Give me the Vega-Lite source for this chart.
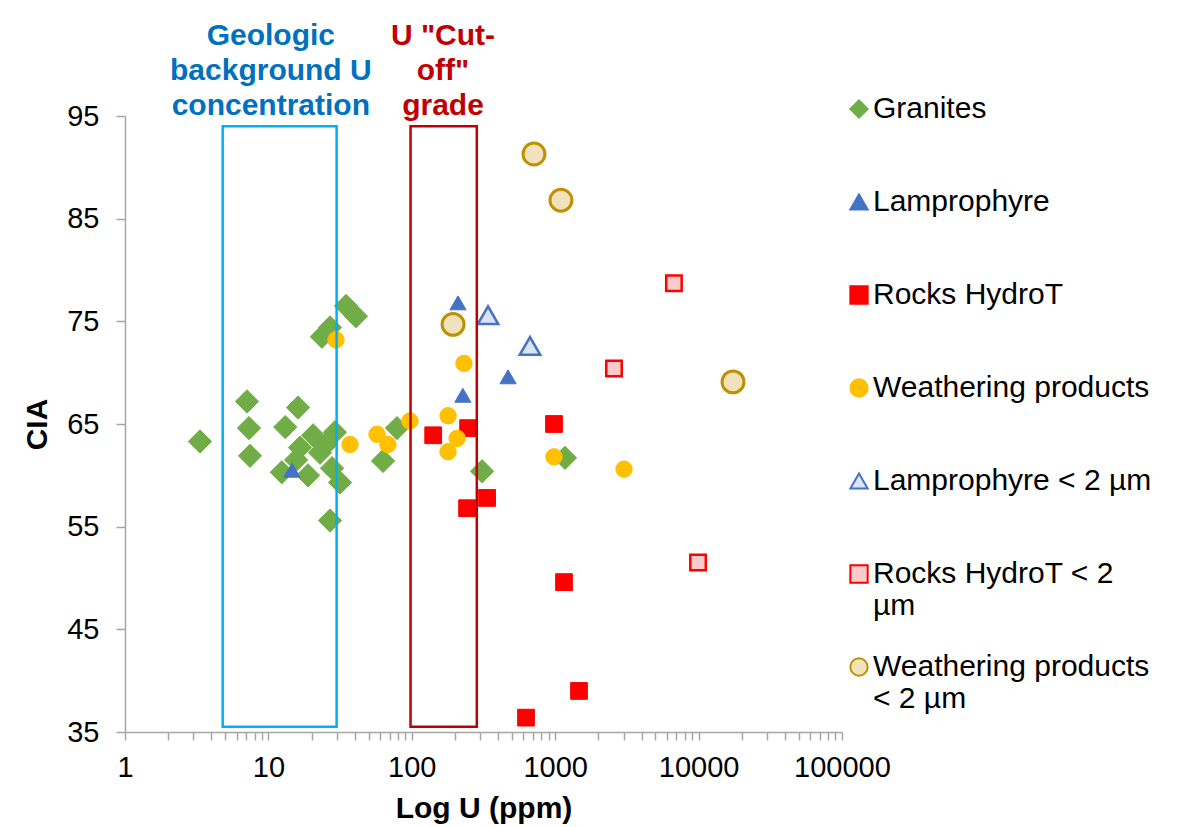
{
  "$schema": "https://vega.github.io/schema/vega-lite/v6.json",
  "width": 717,
  "height": 616,
  "autosize": {"type": "none"},
  "padding": {"left": 125, "top": 116, "right": 353, "bottom": 95},
  "background": "white",
  "config": {
    "view": {"stroke": null},
    "font": "Liberation Sans",
    "legend": {
      "labelFont": "Liberation Sans",
      "labelFontSize": 30,
      "labelColor": "#000000",
      "labelLimit": 420,
      "labelOffset": -1,
      "symbolSize": 300,
      "symbolStrokeWidth": 2,
      "rowPadding": 31,
      "gridAlign": "all",
      "padding": 0
    }
  },
  "datasets": {
    "points": [
      {"series": "Granites", "u": 3.33, "cia": 63.3},
      {"series": "Granites", "u": 7.09, "cia": 67.2},
      {"series": "Granites", "u": 7.32, "cia": 64.6},
      {"series": "Granites", "u": 7.44, "cia": 61.9},
      {"series": "Granites", "u": 16.1, "cia": 66.6},
      {"series": "Granites", "u": 13.1, "cia": 64.7},
      {"series": "Granites", "u": 20.5, "cia": 63.9},
      {"series": "Granites", "u": 29.1, "cia": 64.2},
      {"series": "Granites", "u": 16.6, "cia": 62.7},
      {"series": "Granites", "u": 22.9, "cia": 62.2},
      {"series": "Granites", "u": 12.4, "cia": 60.3},
      {"series": "Granites", "u": 18.9, "cia": 60.0},
      {"series": "Granites", "u": 27.8, "cia": 60.7},
      {"series": "Granites", "u": 31.6, "cia": 59.3},
      {"series": "Granites", "u": 26.9, "cia": 55.6},
      {"series": "Granites", "u": 23.6, "cia": 73.5},
      {"series": "Granites", "u": 26.9, "cia": 74.4},
      {"series": "Granites", "u": 34.8, "cia": 76.5},
      {"series": "Granites", "u": 40.8, "cia": 75.5},
      {"series": "Granites", "u": 63.0, "cia": 61.4},
      {"series": "Granites", "u": 78.8, "cia": 64.6},
      {"series": "Granites", "u": 309, "cia": 60.4},
      {"series": "Granites", "u": 1170, "cia": 61.7},
      {"series": "Granites", "u": 15.6, "cia": 61.5},
      {"series": "Granites", "u": 24.8, "cia": 62.9},
      {"series": "Lamprophyre", "u": 14.6, "cia": 60.5},
      {"series": "Lamprophyre", "u": 210, "cia": 76.8},
      {"series": "Lamprophyre", "u": 227, "cia": 67.8},
      {"series": "Lamprophyre", "u": 469, "cia": 69.6},
      {"series": "Rocks HydroT", "u": 141, "cia": 63.9},
      {"series": "Rocks HydroT", "u": 247, "cia": 64.6},
      {"series": "Rocks HydroT", "u": 981, "cia": 65.0},
      {"series": "Rocks HydroT", "u": 335, "cia": 57.8},
      {"series": "Rocks HydroT", "u": 243, "cia": 56.8},
      {"series": "Rocks HydroT", "u": 1152, "cia": 49.6},
      {"series": "Rocks HydroT", "u": 1466, "cia": 39.0},
      {"series": "Rocks HydroT", "u": 626, "cia": 36.4},
      {"series": "Weathering products", "u": 29.6, "cia": 73.2},
      {"series": "Weathering products", "u": 37.1, "cia": 63.0},
      {"series": "Weathering products", "u": 57.2, "cia": 64.0},
      {"series": "Weathering products", "u": 68.2, "cia": 63.0},
      {"series": "Weathering products", "u": 97, "cia": 65.3},
      {"series": "Weathering products", "u": 179, "cia": 65.8},
      {"series": "Weathering products", "u": 207, "cia": 63.6},
      {"series": "Weathering products", "u": 179, "cia": 62.3},
      {"series": "Weathering products", "u": 231, "cia": 70.9},
      {"series": "Weathering products", "u": 981, "cia": 61.8},
      {"series": "Weathering products", "u": 3020, "cia": 60.6},
      {"series": "Lamprophyre < 2 µm", "u": 340, "cia": 75.6},
      {"series": "Lamprophyre < 2 µm", "u": 667, "cia": 72.6},
      {"series": "Rocks HydroT < 2 µm", "u": 6730, "cia": 78.7},
      {"series": "Rocks HydroT < 2 µm", "u": 2570, "cia": 70.4},
      {"series": "Rocks HydroT < 2 µm", "u": 9910, "cia": 51.5},
      {"series": "Weathering products < 2 µm", "u": 711, "cia": 91.3},
      {"series": "Weathering products < 2 µm", "u": 1097, "cia": 86.8},
      {"series": "Weathering products < 2 µm", "u": 194, "cia": 74.7},
      {"series": "Weathering products < 2 µm", "u": 17380, "cia": 69.1}
    ],
    "boxes": [
      {"box": "background", "u": 4.8, "u_hi": 29.9, "cia": 35.5, "cia_hi": 94},
      {"box": "cutoff", "u": 98, "u_hi": 284, "cia": 35.5, "cia_hi": 94}
    ],
    "notes": [
      {"box": "background", "note": "Geologic\nbackground U\nconcentration", "u": 10.4, "cia": 102.8},
      {"box": "cutoff", "note": "U \"Cut-\noff\"\ngrade", "u": 165, "cia": 102.8}
    ]
  },
  "encoding": {
    "x": {
      "field": "u", "type": "quantitative",
      "scale": {"type": "log", "domain": [1, 100000], "nice": false},
      "axis": {
        "title": "Log U (ppm)",
        "titleFontSize": 30, "titleFontWeight": "bold", "titleColor": "#000000", "titlePadding": 11,
        "labelFontSize": 29, "labelColor": "#000000", "labelPadding": 13,
        "labelFlush": false, "labelOverlap": false, "labelBound": false,
        "values": [1,2,3,4,5,6,7,8,9,10,20,30,40,50,60,70,80,90,100,200,300,400,500,600,700,800,900,1000,2000,3000,4000,5000,6000,7000,8000,9000,10000,20000,30000,40000,50000,60000,70000,80000,90000,100000],
        "labelExpr": "indexof([1,10,100,1000,10000,100000], datum.value) >= 0 ? format(datum.value, 'd') : ''",
        "grid": false, "tickSize": 8, "tickColor": "#A6A6A6", "domainColor": "#A6A6A6", "tickWidth": 1.5, "domainWidth": 1.5
      }
    },
    "y": {
      "field": "cia", "type": "quantitative",
      "scale": {"domain": [35, 95], "nice": false, "zero": false},
      "axis": {
        "title": "CIA",
        "titleFontSize": 30, "titleFontWeight": "bold", "titleColor": "#000000", "titlePadding": 14,
        "labelFontSize": 29, "labelColor": "#000000", "labelPadding": 17,
        "values": [35, 45, 55, 65, 75, 85, 95],
        "grid": false, "tickSize": 9, "tickColor": "#A6A6A6", "domainColor": "#A6A6A6", "tickWidth": 1.5, "domainWidth": 1.5
      }
    }
  },
  "layer": [
    {
      "data": {"name": "points"},
      "encoding": {
        "fill": {
          "field": "series", "type": "nominal",
          "scale": {
            "domain": ["Granites", "Lamprophyre", "Rocks HydroT", "Weathering products", "Lamprophyre < 2 µm", "Rocks HydroT < 2 µm", "Weathering products < 2 µm"],
            "range": ["#70AD47", "#4472C4", "#FF0000", "#FFC000", "#dbe3f4", "#fbcaca", "#efe2bd"]
          },
          "legend": {
            "title": null,
            "orient": "none",
            "legendX": 719,
            "legendY": -22,
            "labelExpr": "datum.label == 'Rocks HydroT < 2 µm' ? ['Rocks HydroT < 2', 'µm'] : datum.label == 'Weathering products < 2 µm' ? ['Weathering products', '< 2 µm'] : datum.label"
          }
        },
        "stroke": {
          "field": "series", "type": "nominal",
          "scale": {
            "domain": ["Granites", "Lamprophyre", "Rocks HydroT", "Weathering products", "Lamprophyre < 2 µm", "Rocks HydroT < 2 µm", "Weathering products < 2 µm"],
            "range": ["#70AD47", "#4472C4", "#FF0000", "#FFC000", "#4472C4", "#FF0000", "#BF9000"]
          }
        },
        "shape": {
          "field": "series", "type": "nominal",
          "scale": {
            "domain": ["Granites", "Lamprophyre", "Rocks HydroT", "Weathering products", "Lamprophyre < 2 µm", "Rocks HydroT < 2 µm", "Weathering products < 2 µm"],
            "range": ["diamond", "triangle-up", "square", "circle", "triangle-up", "square", "circle"]
          }
        }
      },
      "layer": [
        {"transform": [{"filter": "datum.series == 'Granites'"}], "mark": {"type": "point", "filled": true, "opacity": 1, "strokeWidth": 1, "size": 540}},
        {"transform": [{"filter": "datum.series == 'Lamprophyre'"}], "mark": {"type": "point", "filled": true, "opacity": 1, "strokeWidth": 1, "size": 260}},
        {"transform": [{"filter": "datum.series == 'Rocks HydroT'"}], "mark": {"type": "point", "filled": true, "opacity": 1, "strokeWidth": 1, "size": 280}},
        {"transform": [{"filter": "datum.series == 'Weathering products'"}], "mark": {"type": "point", "filled": true, "opacity": 1, "strokeWidth": 1, "size": 270}},
        {"transform": [{"filter": "datum.series == 'Lamprophyre < 2 µm'"}], "mark": {"type": "point", "filled": true, "opacity": 1, "strokeWidth": 2.5, "size": 420}},
        {"transform": [{"filter": "datum.series == 'Rocks HydroT < 2 µm'"}], "mark": {"type": "point", "filled": true, "opacity": 1, "strokeWidth": 2.5, "size": 240}},
        {"transform": [{"filter": "datum.series == 'Weathering products < 2 µm'"}], "mark": {"type": "point", "filled": true, "opacity": 1, "strokeWidth": 3, "size": 480}}
      ]
    },
    {
      "data": {"name": "boxes"},
      "transform": [{"filter": "datum.box == 'background'"}],
      "mark": {"type": "rect", "fill": null, "fillOpacity": 0, "stroke": "#00B0F0", "strokeWidth": 2.5},
      "encoding": {"x2": {"field": "u_hi"}, "y2": {"field": "cia_hi"}}
    },
    {
      "data": {"name": "boxes"},
      "transform": [{"filter": "datum.box == 'cutoff'"}],
      "mark": {"type": "rect", "fill": null, "fillOpacity": 0, "stroke": "#C00000", "strokeWidth": 2.5},
      "encoding": {"x2": {"field": "u_hi"}, "y2": {"field": "cia_hi"}}
    },
    {
      "data": {"name": "notes"},
      "transform": [{"filter": "datum.box == 'background'"}],
      "mark": {"type": "text", "lineBreak": "\n", "lineHeight": 35, "fontSize": 30, "fontWeight": "bold", "color": "#0070C0", "align": "center", "baseline": "middle"},
      "encoding": {"text": {"field": "note"}}
    },
    {
      "data": {"name": "notes"},
      "transform": [{"filter": "datum.box == 'cutoff'"}],
      "mark": {"type": "text", "lineBreak": "\n", "lineHeight": 35, "fontSize": 30, "fontWeight": "bold", "color": "#C00000", "align": "center", "baseline": "middle"},
      "encoding": {"text": {"field": "note"}}
    }
  ]
}
